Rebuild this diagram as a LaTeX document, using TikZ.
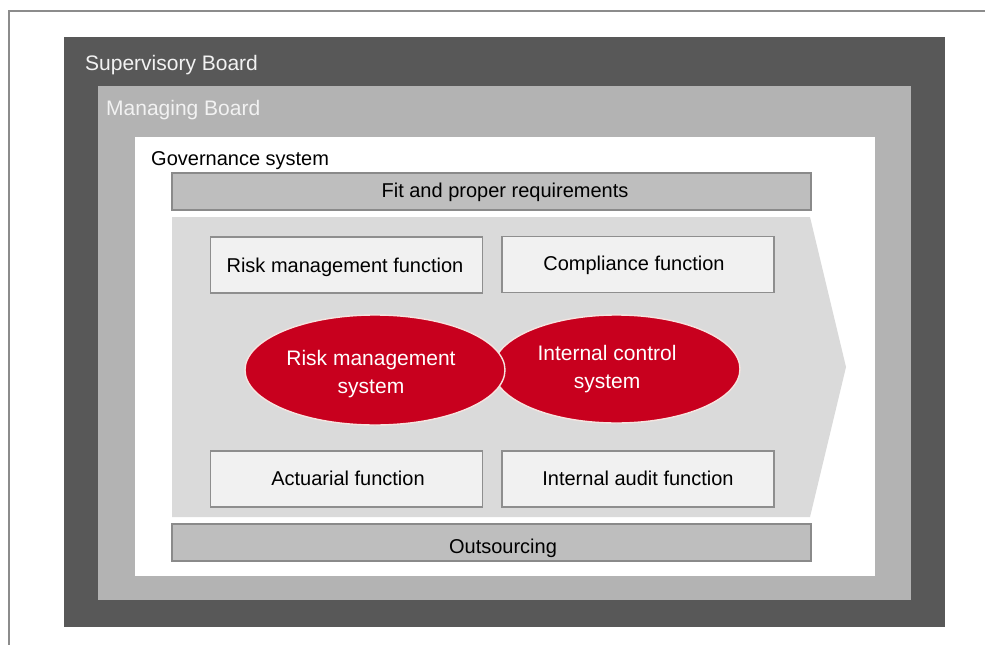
\documentclass[tikz,border=0pt]{standalone}
\usepackage{fontspec}
\setmainfont{Liberation Sans}
\usetikzlibrary{shapes.geometric}
\definecolor{framegray}{HTML}{8C8C8C}
\definecolor{supgray}{HTML}{585858}
\definecolor{mangray}{HTML}{B3B3B3}
\definecolor{bargray}{HTML}{BEBEBE}
\definecolor{barline}{HTML}{8A8A8A}
\definecolor{arrowgray}{HTML}{DADADA}
\definecolor{boxfill}{HTML}{F1F1F1}
\definecolor{boxline}{HTML}{8E8E8E}
\definecolor{redfill}{HTML}{C8001E}
\definecolor{redline}{HTML}{F6E4E0}
\definecolor{lighttext}{HTML}{F2F2F2}
\begin{document}
\begin{tikzpicture}[x=1pt,y=-1pt,
  layer/.style={rectangle, inner sep=0pt, outer sep=0pt, draw=none},
  bar/.style={rectangle, inner sep=0pt, outer sep=0pt, fill=bargray, draw=barline, line width=1.5pt, minimum width=639pt, minimum height=37pt},
  funcbox/.style={rectangle, inner sep=0pt, outer sep=0pt, fill=boxfill, draw=boxline, line width=1.5pt, minimum width=272pt, minimum height=56pt},
  redell/.style={ellipse, inner sep=0pt, outer sep=0pt, fill=redfill, draw=redline, line width=1.4pt},
  txt/.style={font=\fontsize{20}{24}\selectfont, text=black, inner sep=0pt},
  boardtxt/.style={font=\fontsize{21}{25}\selectfont, inner sep=0pt, anchor=base west},
  elltxt/.style={font=\fontsize{21}{28}\selectfont, text=white, align=center, inner sep=0pt}
]
\useasboundingbox (0,0) rectangle (985,645);
\fill[white] (0,0) rectangle (985,645);
\draw[framegray, line width=2pt] (985,11) -- (9,11) -- (9,645);

\node[layer, fill=supgray, minimum width=881pt, minimum height=590pt] (sup) at (504.5,332) {};
\node[layer, fill=mangray, minimum width=813pt, minimum height=514pt] (man) at (504.5,343) {};
\node[layer, fill=white, minimum width=740pt, minimum height=439pt] (gov) at (505,356.5) {};

\node[boardtxt, text=lighttext] (suptxt) at (85,70) {Supervisory Board};
\node[boardtxt, text=lighttext] (mantxt) at (106,115) {Managing Board};
\node[boardtxt, text=black, font=\fontsize{20}{24}\selectfont] (govtxt) at (151,165) {Governance system};

\fill[arrowgray] (172,217) -- (810,217) -- (846,367) -- (810,517) -- (172,517) -- cycle;

\node[bar] (fit) at (491.5,191.5) {};
\node[txt, anchor=base] (fittxt) at (505,197) {Fit and proper requirements};
\node[bar] (out) at (491.5,542.5) {};
\node[txt, anchor=base] (outtxt) at (503,553) {Outsourcing};

\node[funcbox] (rmf) at (346.5,265) {};
\node[txt, anchor=base] (rmftxt) at (345,272) {Risk management function};
\node[funcbox] (comp) at (638,264.5) {};
\node[txt, anchor=base] (comptxt) at (634,270) {Compliance function};
\node[funcbox] (act) at (346.5,479) {};
\node[txt, anchor=base] (acttxt) at (348,485) {Actuarial function};
\node[funcbox] (audit) at (638,479) {};
\node[txt, anchor=base] (audittxt) at (638,485) {Internal audit function};

\node[redell, minimum width=247pt, minimum height=108pt] (ics) at (616.5,369) {};
\node[redell, minimum width=260pt, minimum height=110pt] (rms) at (375,370) {};
\node[elltxt] (rmstxt) at (371,374.5) {Risk management\\system};
\node[elltxt] (icstxt) at (607,369) {Internal control\\system};
\end{tikzpicture}
\end{document}
